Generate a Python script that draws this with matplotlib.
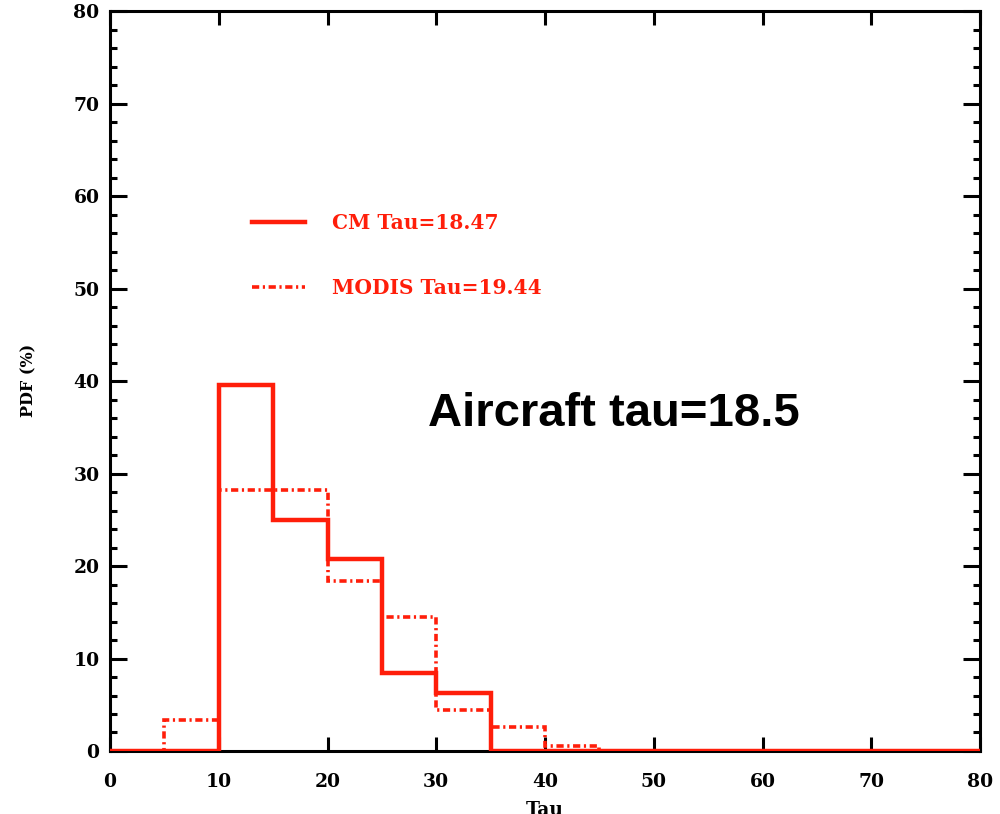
import numpy as np
import matplotlib.pyplot as plt

# bin edges (Tau) and PDF values (%)
edges = np.arange(0, 85, 5)
cm_pdf = [0, 0, 39.6, 25.0, 20.8, 8.4, 6.3, 0, 0, 0, 0, 0, 0, 0, 0, 0]
modis_pdf = [0, 3.3, 28.2, 28.2, 18.4, 14.5, 4.4, 2.6, 0.5, 0, 0, 0, 0, 0, 0, 0]
cm_label = 'CM Tau=18.47'
modis_label = 'MODIS Tau=19.44'
note = 'Aircraft tau=18.5'

RED = '#ff1e0a'


def main():
    fig = plt.figure(figsize=(10, 8.14), dpi=100)
    ax = fig.add_axes([0.11, 0.0774, 0.87, 0.909])

    ax.stairs(modis_pdf, edges, baseline=None, color=RED, lw=2.6,
              linestyle=(0, (2, 1, 0.6, 1)), label=modis_label, zorder=3)
    ax.stairs(cm_pdf, edges, baseline=None, color=RED, lw=3.2,
              label=cm_label, zorder=4)

    ax.set_xlim(0, 80)
    ax.set_ylim(0, 80)
    ax.set_xticks(np.arange(0, 81, 10))
    ax.set_yticks(np.arange(0, 81, 10))
    ax.set_yticks(np.arange(0, 81, 2), minor=True)

    tick_font = dict(family='DejaVu Serif', weight='bold', size=13.5)
    for lab in ax.get_xticklabels() + ax.get_yticklabels():
        lab.set_fontproperties(tick_font)
    ax.tick_params(axis='x', which='major', direction='in', width=2.2,
                   length=10, top=True, pad=16)
    ax.tick_params(axis='y', which='major', direction='in', width=2.2,
                   length=12, right=True, pad=7.5)
    ax.tick_params(axis='y', which='minor', direction='in', width=2.2,
                   length=5, right=True)
    for s in ax.spines.values():
        s.set_linewidth(2.2)

    ax.set_xlabel('Tau', fontdict=tick_font)
    ax.xaxis.set_label_coords(0.5, -0.068)
    ax.set_ylabel('PDF (%)', family='DejaVu Serif', weight='bold', size=11.5)
    ax.yaxis.set_label_coords(-0.083, 0.501)

    handles, labels = ax.get_legend_handles_labels()
    ax.legend(handles[::-1], labels[::-1], loc='upper left',
              bbox_to_anchor=(0.142, 0.752), frameon=False,
              handlelength=2.65, handletextpad=1.35, labelspacing=2.25,
              labelcolor=RED,
              prop=dict(family='DejaVu Serif', weight='bold', size=14.5))

    ax.text(0.365, 0.439, note, transform=ax.transAxes, va='baseline',
            family='Liberation Sans', weight='bold', size=34, color='black')

    fig.savefig('out.png')


if __name__ == '__main__':
    main()
